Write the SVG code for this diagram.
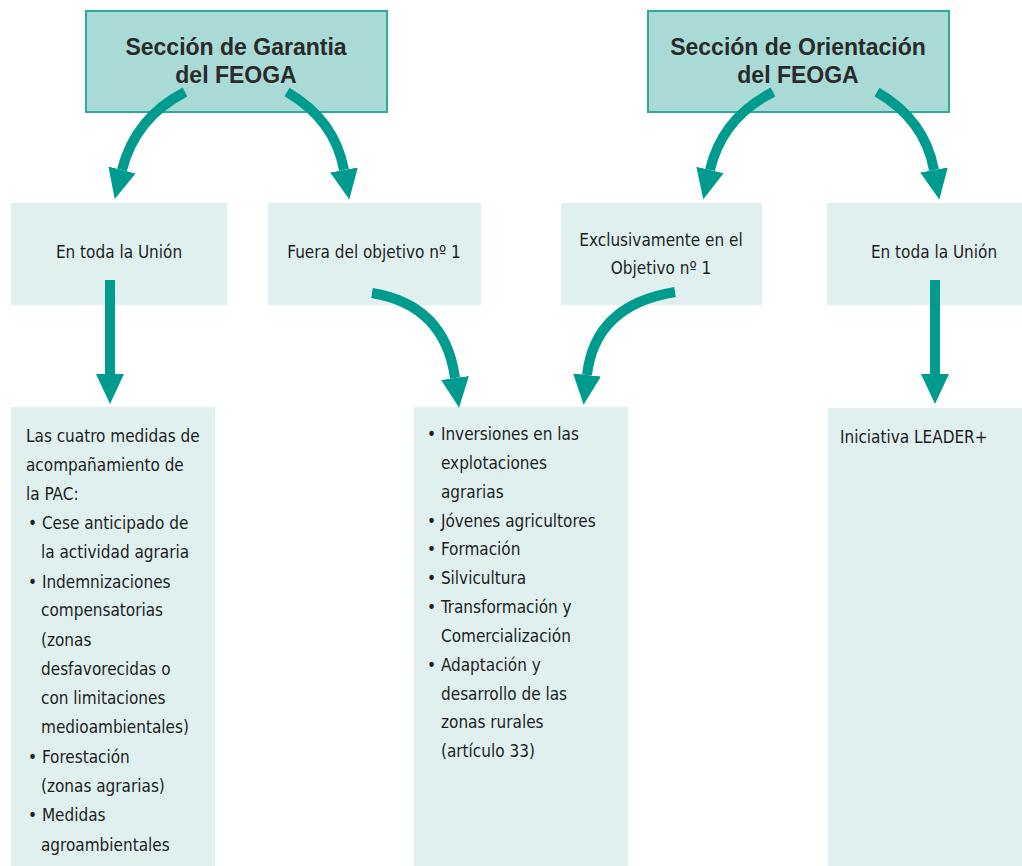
<svg xmlns="http://www.w3.org/2000/svg" width="1022" height="866" viewBox="0 0 1022 866">
<style>
.top{fill:#a9dad5;stroke:#2fa89d;stroke-width:2}
.box{fill:#dff0ef}
.tt{font-family:"Liberation Sans","DejaVu Sans",sans-serif;font-weight:bold;font-size:23px;fill:#2a2a2a;text-anchor:middle}
.t{font-family:"DejaVu Sans",sans-serif;font-stretch:condensed;font-size:17px;fill:#1e1e1e}
.c{text-anchor:middle}
.arr{fill:none;stroke:#009b8f;stroke-width:10}
</style>
<defs>
<marker id="head" markerUnits="userSpaceOnUse" markerWidth="32" markerHeight="32" refX="0" refY="16" viewBox="0 0 32 32" orient="auto">
<path d="M0,2 L30,16 L0,30 z" fill="#009b8f"/>
</marker>
</defs>
<rect width="1022" height="866" fill="#ffffff"/>
<g id="garantia">
<rect class="top" x="86" y="11" width="301" height="101"/>
<text class="tt" x="236" y="55">Sección de Garantia</text>
<text class="tt" x="236" y="83">del FEOGA</text>
</g>
<g id="orientacion">
<rect class="top" x="648" y="11" width="301" height="101"/>
<text class="tt" x="798" y="55">Sección de Orientación</text>
<text class="tt" x="798" y="83">del FEOGA</text>
</g>
<g id="union1">
<rect class="box" x="11" y="203" width="216" height="102"/>
<text class="t c" x="119" y="258">En toda la Unión</text>
</g>
<g id="fuera">
<rect class="box" x="268" y="203" width="213" height="102"/>
<text class="t c" x="374" y="258">Fuera del objetivo nº 1</text>
</g>
<g id="exclusivamente">
<rect class="box" x="561" y="203" width="201" height="102"/>
<text class="t c" x="661" y="246">Exclusivamente en el</text>
<text class="t c" x="661" y="274">Objetivo nº 1</text>
</g>
<g id="union2">
<rect class="box" x="827" y="203" width="195" height="102"/>
<text class="t c" x="934" y="258">En toda la Unión</text>
</g>
<g id="medidas">
<rect class="box" x="11" y="407" width="204" height="459"/>
<text class="t" x="26" y="442">Las cuatro medidas de</text>
<text class="t" x="26" y="471">acompañamiento de</text>
<text class="t" x="26" y="500">la PAC:</text>
<text class="t" x="28" y="529">• Cese anticipado de</text>
<text class="t" x="41" y="558">la actividad agraria</text>
<text class="t" x="28" y="588">• Indemnizaciones</text>
<text class="t" x="41" y="616">compensatorias</text>
<text class="t" x="41" y="646">(zonas</text>
<text class="t" x="41" y="675">desfavorecidas o</text>
<text class="t" x="41" y="704">con limitaciones</text>
<text class="t" x="41" y="733">medioambientales)</text>
<text class="t" x="28" y="763">• Forestación</text>
<text class="t" x="41" y="792">(zonas agrarias)</text>
<text class="t" x="28" y="821">• Medidas</text>
<text class="t" x="41" y="851">agroambientales</text>
</g>
<g id="inversiones">
<rect class="box" x="414" y="407" width="214" height="459"/>
<text class="t" x="427" y="440">• Inversiones en las</text>
<text class="t" x="441" y="469">explotaciones</text>
<text class="t" x="441" y="498">agrarias</text>
<text class="t" x="427" y="527">• Jóvenes agricultores</text>
<text class="t" x="427" y="555">• Formación</text>
<text class="t" x="427" y="584">• Silvicultura</text>
<text class="t" x="427" y="613">• Transformación y</text>
<text class="t" x="441" y="642">Comercialización</text>
<text class="t" x="427" y="671">• Adaptación y</text>
<text class="t" x="441" y="700">desarrollo de las</text>
<text class="t" x="441" y="728">zonas rurales</text>
<text class="t" x="441" y="757">(artículo 33)</text>
</g>
<g id="leader">
<rect class="box" x="828" y="408" width="194" height="458"/>
<text class="t" x="840" y="443">Iniciativa LEADER+</text>
</g>
<g id="connectors">
<path class="arr" d="M185,92 Q135,118 122,170" marker-end="url(#head)"/>
<path class="arr" d="M287,92 Q335,120 344,170" marker-end="url(#head)"/>
<path class="arr" d="M773,92 Q722,118 710,170" marker-end="url(#head)"/>
<path class="arr" d="M877,92 Q925,120 934,170" marker-end="url(#head)"/>
<path class="arr" d="M110,280 L110,374" marker-end="url(#head)"/>
<path class="arr" d="M372,293 Q445,305 455,378" marker-end="url(#head)"/>
<path class="arr" d="M675,292 Q595,305 587,375" marker-end="url(#head)"/>
<path class="arr" d="M935,280 L935,374" marker-end="url(#head)"/>
</g>
</svg>
